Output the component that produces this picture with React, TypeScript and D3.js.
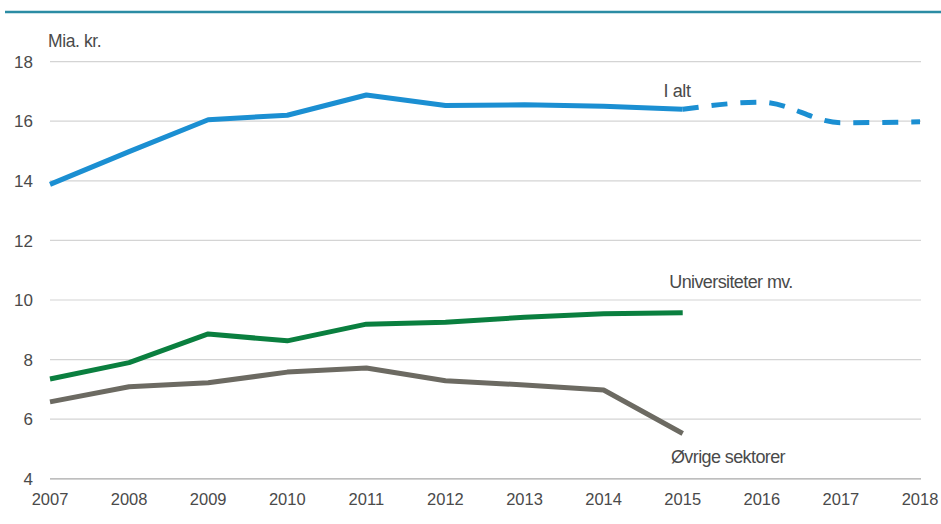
import React from "react";
import * as d3 from "d3";

const years = [2007, 2008, 2009, 2010, 2011, 2012, 2013, 2014, 2015, 2016, 2017, 2018];
const iAlt = [13.88, 14.98, 16.05, 16.2, 16.88, 16.53, 16.55, 16.5, 16.4, 16.64, 15.95, 15.98];
const universiteter = [7.35, 7.9, 8.86, 8.63, 9.19, 9.25, 9.42, 9.54, 9.57];
const oevrige = [6.58, 7.09, 7.22, 7.58, 7.72, 7.29, 7.15, 6.98, 5.52];
const yTicks = [4, 6, 8, 10, 12, 14, 16, 18];
const lastActual = 2015;

const W = 941;
const H = 524;
const FONT = "'Liberation Sans', Arial, sans-serif";
const TEXT = "#4a4a4a";

export default function App() {
  const x = d3.scaleLinear().domain([2007, 2018]).range([50, 920]);
  const y = d3.scaleLinear().domain([4, 18]).range([478.8, 61.6]);

  const line = d3
    .line<[number, number]>()
    .x((d) => x(d[0]))
    .y((d) => y(d[1]));

  const blueAll: [number, number][] = years.map((yr, i) => [yr, iAlt[i]]);
  const blueSolid = blueAll.filter((d) => d[0] <= lastActual);
  const blueDashed = blueAll.filter((d) => d[0] >= lastActual);
  const green: [number, number][] = universiteter.map((v, i) => [years[i], v]);
  const gray: [number, number][] = oevrige.map((v, i) => [years[i], v]);

  const dashedLine = d3
    .line<[number, number]>()
    .x((d) => x(d[0]))
    .y((d) => y(d[1]))
    .curve(d3.curveMonotoneX);

  return (
    <svg
      width={W}
      height={H}
      style={{ position: "absolute", left: 0, top: 0, display: "block", background: "#ffffff" }}
    >
      <rect x={0} y={0} width={W} height={H} fill="#ffffff" />
      <line x1={5} x2={W} y1={12} y2={12} stroke="#2b8ca4" strokeWidth={2.5} />
      {yTicks.map((t) => (
        <g key={t}>
          <line x1={50} x2={921} y1={y(t)} y2={y(t)} stroke={t === 4 ? "#a8a8a8" : "#d4d4d4"} strokeWidth={1.2} />
          <text x={33} y={y(t)} dy="0.36em" textAnchor="end" fontFamily={FONT} fontSize={17} fill={TEXT}>
            {t}
          </text>
        </g>
      ))}
      {years.map((yr) => (
        <text key={yr} x={x(yr)} y={505} textAnchor="middle" fontFamily={FONT} fontSize={16.5} fill={TEXT}>
          {yr}
        </text>
      ))}
      <text x={48} y={47} fontFamily={FONT} fontSize={17.5} fill={TEXT} letterSpacing={-0.4}>
        Mia. kr.
      </text>

      <path d={line(gray) || ""} fill="none" stroke="#6c6a62" strokeWidth={5} strokeLinejoin="round" />
      <path d={line(green) || ""} fill="none" stroke="#0a7f3f" strokeWidth={5} strokeLinejoin="round" />
      <path d={line(blueSolid) || ""} fill="none" stroke="#1b8fd2" strokeWidth={5} strokeLinejoin="round" />
      <path
        d={dashedLine(blueDashed) || ""}
        fill="none"
        stroke="#1b8fd2"
        strokeWidth={5}
        strokeDasharray="16 13"
      />

      <text x={677} y={97} textAnchor="middle" fontFamily={FONT} fontSize={18} fill={TEXT} letterSpacing={-0.4}>
        I alt
      </text>
      <text x={731} y={288} textAnchor="middle" fontFamily={FONT} fontSize={18} fill={TEXT} letterSpacing={-0.6}>
        Universiteter mv.
      </text>
      <text x={728} y={463} textAnchor="middle" fontFamily={FONT} fontSize={18} fill={TEXT} letterSpacing={-0.6}>
        Øvrige sektorer
      </text>
    </svg>
  );
}
